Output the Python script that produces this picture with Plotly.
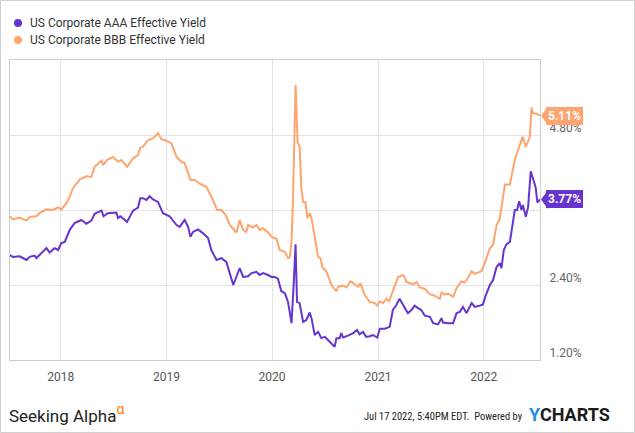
import plotly.graph_objects as go

# ---------------- data ----------------
bbb_dates = [
    "2017-07-09", "2017-07-20", "2017-08-12", "2017-09-05", "2017-09-16", "2017-10-09", "2017-10-20",
    "2017-11-13", "2017-12-05", "2017-12-23", "2018-01-03", "2018-01-21", "2018-02-01", "2018-02-12",
    "2018-03-08", "2018-03-31", "2018-04-17", "2018-04-28", "2018-05-22", "2018-05-27", "2018-06-13",
    "2018-07-01", "2018-07-18", "2018-07-30", "2018-08-18", "2018-09-08", "2018-09-25", "2018-10-03",
    "2018-10-12", "2018-10-30", "2018-11-16", "2018-12-03", "2018-12-15", "2019-01-01", "2019-01-18",
    "2019-02-05", "2019-02-22", "2019-03-05", "2019-03-17", "2019-03-25", "2019-04-09", "2019-04-26",
    "2019-05-19", "2019-05-31", "2019-06-11", "2019-06-25", "2019-07-10", "2019-07-25", "2019-08-08",
    "2019-08-31", "2019-09-11", "2019-09-23", "2019-10-04", "2019-10-10", "2019-10-27", "2019-11-08",
    "2019-11-19", "2019-12-01", "2019-12-18", "2019-12-30", "2020-01-04", "2020-01-16", "2020-01-27",
    "2020-02-14", "2020-02-25", "2020-03-02", "2020-03-08", "2020-03-13", "2020-03-22", "2020-03-29",
    "2020-04-05", "2020-04-11", "2020-04-17", "2020-04-25", "2020-05-02", "2020-05-10", "2020-05-16",
    "2020-05-27", "2020-06-08", "2020-06-16", "2020-06-23", "2020-07-07", "2020-07-24", "2020-08-10",
    "2020-08-16", "2020-09-02", "2020-09-14", "2020-09-28", "2020-10-13", "2020-10-24", "2020-11-01",
    "2020-11-16", "2020-12-03", "2020-12-21", "2020-12-29", "2021-01-07", "2021-01-18", "2021-01-30",
    "2021-02-08", "2021-02-16", "2021-02-28", "2021-03-11", "2021-03-23", "2021-03-28", "2021-04-03",
    "2021-04-09", "2021-05-02", "2021-05-14", "2021-05-25", "2021-06-11", "2021-06-29", "2021-07-10",
    "2021-08-02", "2021-08-08", "2021-08-19", "2021-08-31", "2021-09-17", "2021-09-29", "2021-10-16",
    "2021-10-27", "2021-11-08", "2021-11-20", "2021-12-01", "2021-12-24", "2022-01-04", "2022-01-22",
    "2022-02-02", "2022-02-14", "2022-02-25", "2022-03-03", "2022-03-15", "2022-04-01", "2022-04-18",
    "2022-05-03", "2022-05-15", "2022-05-26", "2022-06-03", "2022-06-09", "2022-06-15", "2022-06-20",
    "2022-07-02", "2022-07-14",
]
bbb_values = [
    3.50, 3.45, 3.48, 3.43, 3.49, 3.50, 3.55,
    3.61, 3.60, 3.64, 3.61, 3.71, 3.81, 3.95,
    4.09, 4.14, 4.13, 4.29, 4.39, 4.32, 4.41,
    4.45, 4.37, 4.40, 4.29, 4.43, 4.48, 4.60,
    4.61, 4.72, 4.75, 4.83, 4.73, 4.71, 4.67,
    4.45, 4.37, 4.35, 4.19, 4.08, 4.08, 4.02,
    3.97, 3.87, 3.76, 3.60, 3.60, 3.52, 3.36,
    3.24, 3.44, 3.28, 3.25, 3.36, 3.32, 3.36,
    3.28, 3.31, 3.24, 3.17, 3.16, 3.14, 2.96,
    2.93, 2.83, 2.85, 3.09, 3.73, 5.60, 4.69,
    4.61, 3.95, 3.73, 3.73, 3.47, 3.55, 3.47,
    3.15, 2.85, 2.83, 2.68, 2.61, 2.40, 2.30,
    2.37, 2.39, 2.36, 2.46, 2.41, 2.37, 2.43,
    2.24, 2.13, 2.11, 2.07, 2.14, 2.11, 2.18,
    2.14, 2.24, 2.40, 2.53, 2.55, 2.56, 2.52,
    2.45, 2.41, 2.45, 2.36, 2.34, 2.25, 2.24,
    2.18, 2.28, 2.25, 2.26, 2.21, 2.35, 2.46,
    2.44, 2.52, 2.62, 2.58, 2.62, 2.75, 2.99,
    3.04, 3.36, 3.46, 3.63, 4.01, 4.01, 4.40,
    4.61, 4.77, 4.61, 4.69, 4.77, 5.24, 5.15,
    5.14, 5.11,
]

aaa_dates = [
    "2017-07-09", "2017-07-20", "2017-08-12", "2017-09-05", "2017-09-16", "2017-10-03", "2017-10-09",
    "2017-10-26", "2017-11-13", "2017-11-24", "2017-12-11", "2017-12-23", "2018-01-03", "2018-01-15",
    "2018-02-01", "2018-02-18", "2018-03-13", "2018-03-31", "2018-04-17", "2018-04-28", "2018-05-22",
    "2018-05-29", "2018-06-13", "2018-07-12", "2018-07-18", "2018-07-26", "2018-08-18", "2018-09-08",
    "2018-09-25", "2018-10-03", "2018-10-12", "2018-10-24", "2018-11-04", "2018-11-16", "2018-12-03",
    "2018-12-20", "2019-01-12", "2019-02-05", "2019-02-16", "2019-03-05", "2019-03-17", "2019-03-25",
    "2019-04-03", "2019-04-20", "2019-05-07", "2019-05-25", "2019-06-05", "2019-06-23", "2019-07-10",
    "2019-07-27", "2019-08-10", "2019-08-20", "2019-08-28", "2019-09-11", "2019-09-23", "2019-10-10",
    "2019-10-22", "2019-11-08", "2019-11-19", "2019-12-01", "2019-12-18", "2019-12-30", "2020-01-10",
    "2020-01-21", "2020-02-02", "2020-02-14", "2020-02-25", "2020-03-08", "2020-03-16", "2020-03-22",
    "2020-03-27", "2020-04-05", "2020-04-17", "2020-04-28", "2020-05-10", "2020-05-16", "2020-05-27",
    "2020-06-08", "2020-06-19", "2020-07-01", "2020-07-12", "2020-07-24", "2020-08-04", "2020-08-10",
    "2020-08-21", "2020-08-27", "2020-09-02", "2020-09-19", "2020-10-07", "2020-10-20", "2020-10-29",
    "2020-11-10", "2020-11-21", "2020-12-03", "2020-12-14", "2020-12-29", "2021-01-07", "2021-01-24",
    "2021-02-10", "2021-02-21", "2021-03-05", "2021-03-16", "2021-03-28", "2021-04-14", "2021-04-26",
    "2021-05-07", "2021-05-19", "2021-05-30", "2021-06-11", "2021-06-29", "2021-07-10", "2021-07-27",
    "2021-08-08", "2021-08-13", "2021-08-31", "2021-09-17", "2021-09-29", "2021-10-10", "2021-10-21",
    "2021-11-02", "2021-11-20", "2021-12-01", "2021-12-18", "2021-12-29", "2022-01-08", "2022-01-22",
    "2022-02-02", "2022-02-14", "2022-02-25", "2022-03-03", "2022-03-11", "2022-03-20", "2022-04-01",
    "2022-04-10", "2022-04-18", "2022-04-26", "2022-05-03", "2022-05-11", "2022-05-16", "2022-05-26",
    "2022-06-03", "2022-06-12", "2022-06-20", "2022-06-29", "2022-07-05", "2022-07-14",
]
aaa_values = [
    2.88, 2.85, 2.86, 2.80, 2.85, 2.87, 2.83,
    2.91, 2.99, 2.92, 2.99, 2.96, 3.07, 3.09,
    3.28, 3.39, 3.44, 3.38, 3.43, 3.54, 3.59,
    3.50, 3.55, 3.56, 3.47, 3.50, 3.41, 3.59,
    3.64, 3.79, 3.79, 3.76, 3.82, 3.77, 3.73,
    3.55, 3.50, 3.36, 3.33, 3.44, 3.33, 3.17,
    3.25, 3.29, 3.23, 3.15, 2.96, 2.80, 2.83,
    2.77, 2.53, 2.40, 2.50, 2.67, 2.53, 2.54,
    2.59, 2.61, 2.56, 2.59, 2.56, 2.53, 2.53,
    2.50, 2.30, 2.27, 2.13, 1.79, 2.45, 3.05,
    2.13, 2.11, 1.81, 1.84, 1.96, 1.87, 1.60,
    1.65, 1.55, 1.57, 1.52, 1.47, 1.41, 1.55,
    1.55, 1.63, 1.56, 1.59, 1.63, 1.68, 1.61,
    1.65, 1.57, 1.58, 1.60, 1.56, 1.70, 1.70,
    1.73, 2.00, 2.08, 2.18, 2.08, 1.95, 2.00,
    2.07, 2.03, 2.00, 1.91, 1.89, 1.79, 1.77,
    1.87, 1.80, 1.79, 1.79, 1.95, 1.97, 2.05,
    1.95, 2.11, 2.05, 2.07, 2.09, 2.24, 2.40,
    2.48, 2.69, 2.75, 2.67, 2.96, 3.05, 3.09,
    3.39, 3.60, 3.60, 3.74, 3.60, 3.68, 3.49,
    3.65, 4.22, 4.08, 3.96, 3.72, 3.77,
]

series_names = ["US Corporate AAA Effective Yield", "US Corporate BBB Effective Yield"]
last_values = [3.77, 5.11]
y_tick_vals = [1.2, 2.4, 3.6, 4.8]
y_tick_text = ["1.20%", "2.40%", "3.60%", "4.80%"]
footer_stamp = "Jul 17 2022, 5:40PM EDT.&nbsp;&nbsp;Powered by"

# ---------------- styling / layout ----------------
AAA_COLOR = "#6634CF"
BBB_COLOR = "#FFA46E"
W, H = 635, 433
L, R, T, B = 10, 95, 60, 73
PW, PH = W - L - R, H - T - B


def px(x):
    return (x - L) / PW


def py(y):
    return (H - B - y) / PH


fig = go.Figure()
fig.add_trace(go.Scatter(x=bbb_dates, y=bbb_values, mode="lines", name=series_names[1],
                         line=dict(color=BBB_COLOR, width=2), hoverinfo="skip"))
fig.add_trace(go.Scatter(x=aaa_dates, y=aaa_values, mode="lines", name=series_names[0],
                         line=dict(color=AAA_COLOR, width=2), hoverinfo="skip"))

annotations = []
shapes = []

# legend (manual)
for i, (name, col) in enumerate(zip(series_names, [AAA_COLOR, BBB_COLOR])):
    yy = 23 + 17 * i
    shapes.append(dict(type="circle", xref="paper", yref="paper", xsizemode="pixel", ysizemode="pixel",
                       xanchor=px(18), yanchor=py(yy), x0=-4, x1=4, y0=-4, y1=4,
                       fillcolor=col, line=dict(width=0)))
    annotations.append(dict(text=name, xref="paper", yref="paper", x=px(28), y=py(yy),
                            xanchor="left", yanchor="middle", showarrow=False,
                            font=dict(family="Roboto", size=12, color="#333333")))

# end-value badges (drawn over the axis labels, like the reference)
for val, col in zip(last_values, [AAA_COLOR, BBB_COLOR]):
    annotations.append(dict(text="<b>%.2f%%</b>" % val, xref="paper", yref="y", x=1, y=val,
                            xanchor="left", yanchor="middle", xshift=6, showarrow=False,
                            bgcolor=col, borderpad=2, borderwidth=0,
                            font=dict(family="Roboto", size=12, color="white")))
    shapes.append(dict(type="path", xref="paper", yref="y", xsizemode="pixel", ysizemode="pixel",
                       xanchor=1, yanchor=val, path="M1,0 L8,-9.5 L8,9.5 Z",
                       fillcolor=col, line=dict(width=0)))

# footer
annotations.append(dict(text="Seeking Alpha<span style='color:#FF7A00;font-size:20px'><sup>α</sup></span>",
                        xref="paper", yref="paper", x=px(7), y=py(413), xanchor="left", yanchor="middle",
                        showarrow=False, font=dict(family="Roboto", size=17, color="#222222")))
annotations.append(dict(text=footer_stamp, xref="paper", yref="paper", x=px(525), y=py(416),
                        xanchor="right", yanchor="middle", showarrow=False,
                        font=dict(family="Liberation Sans Narrow, Roboto Condensed, Roboto", size=10.5,
                                  color="#222222")))
annotations.append(dict(text="<b><span style='color:#1F8FE5'>Y</span>CHARTS</b>",
                        xref="paper", yref="paper", x=px(527), y=py(414), xanchor="left", yanchor="middle",
                        showarrow=False, font=dict(family="Roboto", size=18, color="#1b1b1b")))

# outer border
shapes.append(dict(type="rect", xref="paper", yref="paper", x0=px(0.5), x1=px(W - 0.5),
                   y0=py(H - 0.5), y1=py(0.5), line=dict(color="#d0d0d0", width=1),
                   fillcolor="rgba(0,0,0,0)", layer="above"))

fig.update_layout(
    width=W, height=H,
    margin=dict(l=L, r=R, t=T, b=B, pad=0),
    paper_bgcolor="white", plot_bgcolor="white",
    showlegend=False,
    annotations=annotations,
    shapes=shapes,
    xaxis=dict(type="date", range=["2017-07-10", "2022-07-14"], dtick="M12", tick0="2018-01-01",
               tickformat="%Y", showgrid=True, gridcolor="#e3e3e3", gridwidth=1,
               showline=True, linecolor="#cccccc", linewidth=1, mirror=True,
               ticks="", ticklabelstandoff=6, tickfont=dict(family="Roboto", size=12, color="#555555"),
               zeroline=False, fixedrange=True),
    yaxis=dict(side="right", range=[1.2, 6.0], tickvals=y_tick_vals, ticktext=y_tick_text,
               showgrid=True, gridcolor="#e3e3e3", gridwidth=1,
               showline=True, linecolor="#cccccc", linewidth=1, mirror=True,
               ticks="", ticklabelshift=-7, ticklabelstandoff=6,
               tickfont=dict(family="Roboto", size=12, color="#666666"),
               zeroline=False, fixedrange=True),
)

fig.write_html("out.html")
